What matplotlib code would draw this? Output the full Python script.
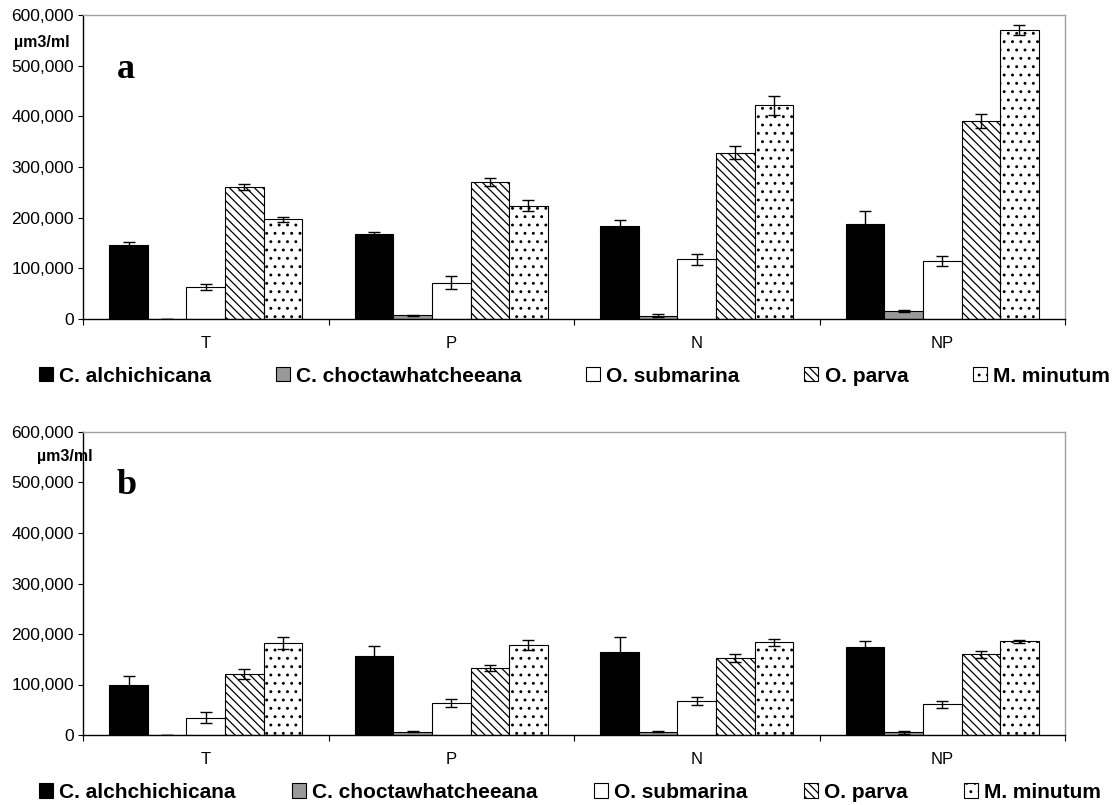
import numpy as np
import matplotlib.pyplot as plt
from matplotlib.ticker import FuncFormatter, MultipleLocator

plt.rcParams['font.family'] = ['Liberation Sans', 'DejaVu Sans']
plt.rcParams['hatch.linewidth'] = 0.9

categories = ['T', 'P', 'N', 'NP']

# panel a
names_a = ['C. alchichicana', 'C. choctawhatcheeana', 'O. submarina', 'O. parva', 'M. minutum']
alch_a = [147000, 168000, 183000, 187000]
alch_a_err = [4000, 3000, 12000, 26000]
choc_a = [0, 7000, 6000, 15000]
choc_a_err = [0, 1000, 3000, 2000]
subm_a = [64000, 72000, 118000, 114000]
subm_a_err = [6000, 12000, 11000, 10000]
parva_a = [260000, 271000, 328000, 390000]
parva_a_err = [6000, 8000, 13000, 14000]
minut_a = [197000, 224000, 422000, 570000]
minut_a_err = [5000, 10000, 19000, 10000]

# panel b
names_b = ['C. alchchichicana', 'C. choctawhatcheeana', 'O. submarina', 'O. parva', 'M. minutum']
alch_b = [100000, 156000, 164000, 174000]
alch_b_err = [17000, 20000, 31000, 12000]
choc_b = [500, 6000, 6000, 5000]
choc_b_err = [300, 1000, 1000, 3000]
subm_b = [34000, 63000, 67000, 61000]
subm_b_err = [11000, 8000, 8000, 7000]
parva_b = [120000, 133000, 153000, 160000]
parva_b_err = [10000, 6000, 8000, 7000]
minut_b = [182000, 178000, 184000, 186000]
minut_b_err = [12000, 10000, 7000, 3000]

styles = [('black', ''), ('#999999', ''), ('white', ''),
          ('white', '\\\\\\\\'), ('white', '..')]

W, H = 1118, 805
fig = plt.figure(figsize=(W / 100, H / 100), dpi=100)


def draw_panel(ax, series, errs, names, letter, letter_xy, unit_xy, legend_y, colspace):
    x = np.arange(len(categories))
    w = 0.157
    handles = []
    for i, (vals, err, (fc, h)) in enumerate(zip(series, errs, styles)):
        bc = ax.bar(x + (i - 2) * w, vals, w, yerr=err, color=fc, hatch=h,
                    edgecolor='black', linewidth=0.8, label=names[i],
                    error_kw=dict(ecolor='black', elinewidth=1, capsize=4, capthick=1))
        handles.append(bc)
    ax.set_xlim(-0.5, len(categories) - 0.5)
    ax.set_ylim(0, 600000)
    ax.yaxis.set_major_locator(MultipleLocator(100000))
    ax.yaxis.set_major_formatter(FuncFormatter(lambda v, p: '{:,.0f}'.format(v)))
    ax.tick_params(axis='y', direction='out', length=3.5, width=0.8, pad=3, labelsize=12.5)
    # ticks between categories, labels centred
    ax.set_xticks(np.arange(len(categories) + 1) - 0.5)
    ax.set_xticklabels([])
    ax.set_xticks(x, minor=True)
    ax.set_xticklabels(categories, minor=True, fontsize=12)
    ax.tick_params(axis='x', which='major', direction='out', length=4.5, width=0.8)
    ax.tick_params(axis='x', which='minor', length=0, pad=12)
    for s in ['left', 'bottom']:
        ax.spines[s].set_color('black')
        ax.spines[s].set_linewidth(1)
    for s in ['top', 'right']:
        ax.spines[s].set_color('#a0a0a0')
        ax.spines[s].set_linewidth(1)
    fig.text(letter_xy[0] / W, 1 - letter_xy[1] / H, letter, family='Liberation Serif',
             fontweight='bold', fontsize=26, ha='center', va='center')
    fig.text(unit_xy[0] / W, 1 - unit_xy[1] / H, 'µm3/ml', fontweight='bold',
             fontsize=11.5, ha='left', va='center')
    fig.legend(handles=handles, labels=names, ncol=5, loc='center left',
               bbox_to_anchor=(39 / W, 1 - legend_y / H), frameon=False,
               prop=dict(weight='bold', size=15), handlelength=0.67, handleheight=0.7,
               handletextpad=0.3, columnspacing=colspace, borderpad=0, borderaxespad=0)


ax_a = fig.add_axes([83 / W, 1 - 319 / H, (1065 - 83) / W, 304 / H])
draw_panel(ax_a, [alch_a, choc_a, subm_a, parva_a, minut_a],
           [alch_a_err, choc_a_err, subm_a_err, parva_a_err, minut_a_err],
           names_a, 'a', (126, 70), (14, 43), 376, 3.1)

ax_b = fig.add_axes([83 / W, 1 - 735 / H, (1065 - 83) / W, 303 / H])
draw_panel(ax_b, [alch_b, choc_b, subm_b, parva_b, minut_b],
           [alch_b_err, choc_b_err, subm_b_err, parva_b_err, minut_b_err],
           names_b, 'b', (127, 485), (37, 456), 792, 2.7)

fig.savefig('out.png', dpi=100)
